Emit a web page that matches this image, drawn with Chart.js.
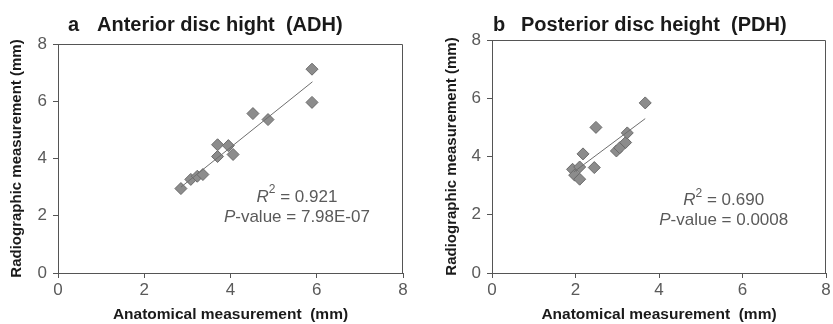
<!DOCTYPE html>
<html lang="en">
<head>
    <meta charset="UTF-8">
    <title>Radiographic vs anatomical disc height</title>
    <style>
        body {
            margin: 0;
            width: 833px;
            height: 324px;
            background: #ffffff;
            overflow: hidden;
            position: relative;
        }
        .panel { position: absolute; top: 0; height: 324px; }
        #panelA { left: 0; width: 413px; }
        #panelB { left: 413px; width: 420px; }
    </style>
    <script src="https://cdn.jsdelivr.net/npm/chart.js@4/dist/chart.umd.min.js"></script>
</head>
<body>
    <div class="panel" id="panelA"><canvas id="chartA" width="413" height="324"></canvas></div>
    <div class="panel" id="panelB"><canvas id="chartB" width="420" height="324"></canvas></div>

    <script>
        // ADH: anatomical (x) vs radiographic (y), mm
        const adhAnatomical = [2.85, 3.08, 3.23, 3.36, 3.70, 3.70, 3.95, 4.06, 4.52, 4.87, 5.89, 5.89];
        const adhRadiographic = [2.95, 3.27, 3.38, 3.44, 4.48, 4.07, 4.45, 4.14, 5.57, 5.36, 7.12, 5.96];
        const adhTrendX = [2.85, 5.90];
        const adhTrendY = [3.00, 6.68];

        // PDH
        const pdhAnatomical = [1.93, 1.98, 2.10, 2.10, 2.18, 2.45, 2.49, 2.98, 3.06, 3.20, 3.24, 3.67];
        const pdhRadiographic = [3.56, 3.36, 3.22, 3.64, 4.09, 3.62, 5.00, 4.19, 4.30, 4.48, 4.81, 5.84];
        const pdhTrendX = [1.96, 3.67];
        const pdhTrendY = [3.47, 5.30];

        const axisTicks = [0, 2, 4, 6, 8];

        const textGrey = '#5a5a5a';
        const lineGrey = '#555555';
        const font = 'Liberation Sans, Arial, sans-serif';

        function toPoints(xs, ys) {
            return xs.map((x, i) => ({ x: x, y: ys[i] }));
        }

        // frame + heading + stats text
        const decorPlugin = {
            id: 'decor',
            afterDraw(chart, args, opts) {
                const ctx = chart.ctx;
                const a = chart.chartArea;
                ctx.save();
                ctx.strokeStyle = lineGrey;
                ctx.lineWidth = 1;
                ctx.beginPath();
                ctx.moveTo(a.left, a.top + 0.5);
                ctx.lineTo(a.right - 0.5, a.top + 0.5);
                ctx.lineTo(a.right - 0.5, a.bottom);
                ctx.stroke();

                // heading
                ctx.fillStyle = '#1a1a1a';
                ctx.textBaseline = 'middle';
                ctx.textAlign = 'left';
                ctx.font = 'bold 20px ' + font;
                ctx.fillText(opts.letter, opts.letterX, 25);
                ctx.fillText(opts.heading, opts.headingX, 25);

                // R² and P-value
                const xs = chart.scales.x, ys = chart.scales.y;
                const cx = xs.getPixelForValue(opts.statX);
                const y1 = ys.getPixelForValue(opts.statY1);
                const y2 = ys.getPixelForValue(opts.statY2);
                ctx.fillStyle = textGrey;
                const parts1 = [
                    ['italic 17px ' + font, 'R', 0],
                    ['12px ' + font, '2', -7],
                    ['17px ' + font, ' = ' + opts.r2, 0]
                ];
                const parts2 = [
                    ['italic 17px ' + font, 'P', 0],
                    ['17px ' + font, '-value = ' + opts.p, 0]
                ];
                [[parts1, y1], [parts2, y2]].forEach(([parts, y]) => {
                    let w = 0;
                    parts.forEach(p => { ctx.font = p[0]; w += ctx.measureText(p[1]).width; });
                    let x = cx - w / 2;
                    parts.forEach(p => {
                        ctx.font = p[0];
                        ctx.fillText(p[1], x, y + p[2]);
                        x += ctx.measureText(p[1]).width;
                    });
                });
                ctx.restore();
            }
        };

        function makeChart(id, pts, trend, cfg) {
            return new Chart(document.getElementById(id), {
                type: 'scatter',
                data: {
                    datasets: [
                        {
                            data: trend,
                            type: 'line',
                            borderColor: '#6e6e6e',
                            borderWidth: 1,
                            pointRadius: 0,
                            fill: false
                        },
                        {
                            data: pts,
                            pointStyle: 'rectRot',
                            pointRadius: 6,
                            backgroundColor: '#8c8c8c',
                            borderColor: '#6a6a6a',
                            borderWidth: 1
                        }
                    ]
                },
                options: {
                    responsive: false,
                    animation: false,
                    layout: { padding: { top: cfg.top, right: cfg.right, left: 0, bottom: 0 } },
                    plugins: {
                        legend: { display: false },
                        tooltip: { enabled: false },
                        decor: cfg.decor
                    },
                    scales: {
                        x: {
                            type: 'linear',
                            min: 0, max: 8,
                            afterBuildTicks: s => { s.ticks = axisTicks.map(v => ({ value: v })); },
                            afterFit: s => { s.height = 51; },
                            border: { color: lineGrey, width: 1 },
                            grid: { drawOnChartArea: false, drawTicks: true, tickLength: 5, color: lineGrey },
                            ticks: { color: textGrey, font: { family: font, size: 17 }, padding: 2, maxRotation: 0 },
                            title: {
                                display: true,
                                text: 'Anatomical measurement  (mm)',
                                color: '#1a1a1a',
                                font: { family: font, size: 15.5, weight: 'bold' },
                                padding: { top: 0, bottom: 0 }
                            }
                        },
                        y: {
                            type: 'linear',
                            min: 0, max: 8,
                            afterBuildTicks: s => { s.ticks = axisTicks.map(v => ({ value: v })); },
                            afterFit: s => { s.width = cfg.yWidth; },
                            border: { color: lineGrey, width: 1 },
                            grid: { drawOnChartArea: false, drawTicks: true, tickLength: 5, color: lineGrey },
                            ticks: { color: textGrey, font: { family: font, size: 17 }, padding: 6 },
                            title: {
                                display: true,
                                text: 'Radiographic measurement (mm)',
                                color: '#1a1a1a',
                                font: { family: font, size: 15, weight: 'bold' },
                                padding: { top: cfg.yTitlePad, bottom: 0 }
                            }
                        }
                    }
                },
                plugins: [decorPlugin]
            });
        }

        makeChart('chartA', toPoints(adhAnatomical, adhRadiographic), toPoints(adhTrendX, adhTrendY), {
            top: 44, right: 10, yWidth: 58, yTitlePad: 8,
            decor: {
                letter: 'a', letterX: 68,
                heading: 'Anterior disc hight  (ADH)', headingX: 97,
                statX: 5.54, statY1: 2.65, statY2: 1.95,
                r2: '0.921', p: '7.98E-07'
            }
        });

        makeChart('chartB', toPoints(pdhAnatomical, pdhRadiographic), toPoints(pdhTrendX, pdhTrendY), {
            top: 40, right: 1, yWidth: 79, yTitlePad: 30,
            decor: {
                letter: 'b', letterX: 80,
                heading: 'Posterior disc height  (PDH)', headingX: 108,
                statX: 5.55, statY1: 2.5, statY2: 1.81,
                r2: '0.690', p: '0.0008'
            }
        });
    </script>
</body>
</html>
